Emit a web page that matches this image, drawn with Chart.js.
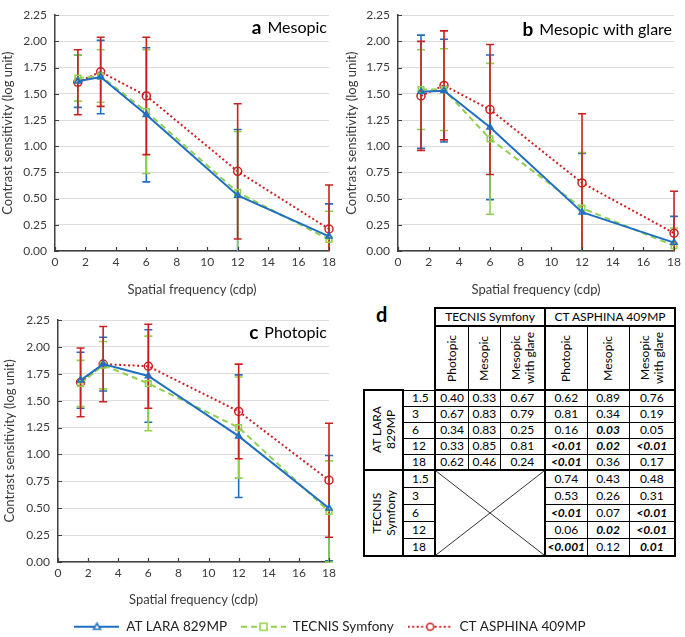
<html>
<head>
<script src="https://cdn.jsdelivr.net/npm/chart.js@4.4.0/dist/chart.umd.min.js"></script>
<style>
  body { margin:0; background:#fff; width:685px; height:637px; overflow:hidden; position:relative; font-family:Lato, sans-serif; }
  canvas { position:absolute; }
  #dlabel { position:absolute; left:376px; top:302px; font:bold 20px Lato; color:#000; }
  #tbl { position:absolute; left:363px; top:307px; border-collapse:collapse; table-layout:fixed; font:12px Lato; color:#000; }
  #tbl td { border:1px solid #000; padding:0; text-align:center; white-space:nowrap; line-height:1; }
  #tbl td.blank { border:none; }
  #tbl td.thick { border:2px solid #000; }
  #tbl td.tl { border-left:2px solid #000; }
  #tbl td.tr { border-right:2px solid #000; }
  #tbl td.tt { border-top:2px solid #000; }
  #tbl td.tb { border-bottom:2px solid #000; }
  #tbl td.freq { text-align:left; padding-left:8px; }
  #tbl td.b { font-weight:bold; font-style:italic; }
  .rot { writing-mode:vertical-rl; transform:rotate(180deg); margin:0 auto; line-height:1.15; text-align:center; }
</style>
</head>
<body>
<canvas id="chartA" width="340" height="300" style="left:0;top:0"></canvas>
<canvas id="chartB" width="345" height="300" style="left:340px;top:0"></canvas>
<canvas id="chartC" width="340" height="310" style="left:0;top:300px"></canvas>
<div id="dlabel">d</div>
<table id="tbl"></table>
<canvas id="legendCanvas" width="660" height="60" style="left:0;top:606px"></canvas>
<script>
// spatial frequencies (cdp)
var freqs = [1.5, 3, 6, 12, 18];
var seriesNames = ['AT LARA 829MP', 'TECNIS Symfony', 'CT ASPHINA 409MP'];

// a  Mesopic - mean and SD
var mesLara = [1.62, 1.66, 1.30, 0.53, 0.14];
var mesLaraSd = [0.25, 0.35, 0.64, 0.63, 0.31];
var mesTecnis = [1.65, 1.67, 1.33, 0.56, 0.11];
var mesTecnisSd = [0.22, 0.25, 0.59, 0.58, 0.27];
var mesAsphina = [1.61, 1.71, 1.48, 0.76, 0.21];
var mesAsphinaSd = [0.31, 0.33, 0.56, 0.645, 0.42];

// b  Mesopic with glare
var glareLara = [1.52, 1.53, 1.18, 0.37, 0.08];
var glareLaraSd = [0.54, 0.49, 0.69, 0.56, 0.25];
var glareTecnis = [1.54, 1.54, 1.07, 0.41, 0.05];
var glareTecnisSd = [0.38, 0.39, 0.72, 0.53, 0.17];
var glareAsphina = [1.48, 1.58, 1.35, 0.65, 0.17];
var glareAsphinaSd = [0.52, 0.52, 0.62, 0.66, 0.40];

// c  Photopic
var photLara = [1.69, 1.84, 1.73, 1.17, 0.50];
var photLaraSd = [0.26, 0.25, 0.43, 0.57, 0.49];
var photTecnis = [1.66, 1.83, 1.66, 1.25, 0.47];
var photTecnisSd = [0.215, 0.22, 0.44, 0.47, 0.47];
var photAsphina = [1.67, 1.84, 1.82, 1.40, 0.76];
var photAsphinaSd = [0.32, 0.35, 0.39, 0.44, 0.53];

// d  p values (columns: Photopic, Mesopic, Mesopic with glare)
var tableFreqs = ['1.5', '3', '6', '12', '18'];
var laraVsTecnis = [['0.40','0.33','0.67'], ['0.67','0.83','0.79'], ['0.34','0.83','0.25'], ['0.33','0.85','0.81'], ['0.62','0.46','0.24']];
var laraVsAsphina = [['0.62','0.89','0.76'], ['0.81','0.34','0.19'], ['0.16','0.03','0.05'], ['<0.01','0.02','<0.01'], ['<0.01','0.36','0.17']];
var tecnisVsAsphina = [['0.74','0.43','0.48'], ['0.53','0.26','0.31'], ['<0.01','0.07','<0.01'], ['0.06','0.02','<0.01'], ['<0.001','0.12','0.01']];

var colors = ['#1f6fc1', '#8fd14f', '#cc2020'];
var dashes = [[], [6, 4], [2, 2.5]];
var shapes = ['triangle', 'rect', 'circle'];
var radii = [3.5, 4, 4];
var FONT = 'Lato';
var TEXT = '#3a3a3a';

var errorBars = {
    id: 'errorBars',
    beforeDatasetsDraw: function(chart) {
        var ctx = chart.ctx, area = chart.chartArea;
        var xs = chart.scales.x, ys = chart.scales.y;
        chart.data.datasets.forEach(function(ds, i) {
            ctx.save();
            ctx.strokeStyle = ds.borderColor;
            ctx.lineWidth = 1.6;
            ds.sd.forEach(function(sd, j) {
                var p = ds.data[j];
                var x = xs.getPixelForValue(p.x);
                var top = ys.getPixelForValue(p.y + sd);
                var bot = ys.getPixelForValue(p.y - sd);
                var t = Math.max(top, area.top), b = Math.min(bot, area.bottom);
                ctx.beginPath();
                ctx.moveTo(x, t); ctx.lineTo(x, b);
                if (top >= area.top) { ctx.moveTo(x - 4, top); ctx.lineTo(x + 4, top); }
                if (bot <= area.bottom) { ctx.moveTo(x - 4, bot); ctx.lineTo(x + 4, bot); }
                ctx.stroke();
            });
            ctx.restore();
        });
    },
    afterDraw: function(chart, args, opts) {
        // inside tick marks, like the spreadsheet axes
        var ctx = chart.ctx, area = chart.chartArea;
        var xs = chart.scales.x, ys = chart.scales.y;
        ctx.save();
        ctx.strokeStyle = '#404040';
        ctx.lineWidth = 1.2;
        ctx.beginPath();
        ys.ticks.forEach(function(t) {
            var y = Math.round(ys.getPixelForValue(t.value)) + 0.5;
            ctx.moveTo(area.left, y); ctx.lineTo(area.left + 4, y);
        });
        xs.ticks.forEach(function(t) {
            var x = Math.round(xs.getPixelForValue(t.value)) + 0.5;
            ctx.moveTo(x, area.bottom); ctx.lineTo(x, area.bottom - 4);
        });
        ctx.stroke();
        // panel label
        ctx.textBaseline = 'middle';
        ctx.textAlign = 'right';
        ctx.fillStyle = '#000';
        ctx.font = '16px ' + FONT;
        var w = ctx.measureText(opts.text).width;
        ctx.fillText(opts.text, area.right - 2, area.top + opts.dy);
        ctx.font = 'bold 19px ' + FONT;
        ctx.fillText(opts.letter, area.right - 2 - w - 6, area.top + opts.dy);
        ctx.restore();
    }
};

function makeDataset(i, values, sd) {
    return {
        label: seriesNames[i],
        data: values.map(function(v, j) { return {x: freqs[j], y: v}; }),
        sd: sd,
        borderColor: colors[i],
        backgroundColor: 'rgba(255,255,255,0)',
        borderWidth: 2,
        borderDash: dashes[i],
        pointStyle: shapes[i],
        pointRadius: radii[i],
        pointBorderWidth: 1.5,
        pointBackgroundColor: 'rgba(255,255,255,0)',
        tension: 0,
        clip: false
    };
}

function makeChart(id, series, letter, text, g) {
    return new Chart(document.getElementById(id), {
        type: 'line',
        data: {
            datasets: [
                makeDataset(0, series[0], series[1]),
                makeDataset(1, series[2], series[3]),
                makeDataset(2, series[4], series[5])
            ]
        },
        options: {
            responsive: false,
            animation: false,
            layout: { padding: { left: g.left, top: g.top, right: g.right, bottom: 0 } },
            plugins: {
                legend: { display: false },
                tooltip: { enabled: false },
                errorBars: { letter: letter, text: text, dy: g.dy }
            },
            scales: {
                x: {
                    type: 'linear', min: 0, max: 18,
                    ticks: { stepSize: 2, color: TEXT, font: { family: FONT, size: 12 }, padding: 4, maxRotation: 0 },
                    grid: { display: false, drawTicks: false },
                    border: { display: true, color: '#404040', width: 1.5 },
                    title: { display: true, text: 'Spatial frequency (cdp)', color: TEXT, font: { family: FONT, size: 13 }, padding: { bottom: g.titleBottom, top: 0 } },
                    afterFit: function(s) { s.height = g.xHeight; }
                },
                y: {
                    min: 0, max: 2.25,
                    ticks: { stepSize: 0.25, color: TEXT, font: { family: FONT, size: 12 }, padding: 8,
                             callback: function(v) { return v.toFixed(2); } },
                    grid: { color: '#dcdcdc', lineWidth: 1, drawTicks: false },
                    border: { display: true, color: '#404040', width: 1.5 },
                    title: { display: true, text: 'Contrast sensitivity (log unit)', color: TEXT, font: { family: FONT, size: 13 }, padding: { top: 0, bottom: 0 } },
                    afterFit: function(s) { s.width = g.yWidth; }
                }
            }
        },
        plugins: [errorBars]
    });
}

makeChart('chartA', [mesLara, mesLaraSd, mesTecnis, mesTecnisSd, mesAsphina, mesAsphinaSd], 'a', 'Mesopic',
    { left: 0, top: 6, right: 11, yWidth: 55, xHeight: 49, titleBottom: 2, dy: 13 });
makeChart('chartB', [glareLara, glareLaraSd, glareTecnis, glareTecnisSd, glareAsphina, glareAsphinaSd], 'b', 'Mesopic with glare',
    { left: 4, top: 11, right: 7, yWidth: 54, xHeight: 49, titleBottom: 2, dy: 15 });
makeChart('chartC', [photLara, photLaraSd, photTecnis, photTecnisSd, photAsphina, photAsphinaSd], 'c', 'Photopic',
    { left: 2, top: 20, right: 11, yWidth: 56, xHeight: 48, titleBottom: 2, dy: 13 });

// legend icons: line with marker
function legendIcon(i) {
    var c = document.createElement('canvas');
    c.width = 45; c.height = 12;
    var x = c.getContext('2d');
    x.strokeStyle = colors[i];
    x.lineWidth = 2;
    x.setLineDash(dashes[i]);
    x.beginPath(); x.moveTo(0, 6); x.lineTo(45, 6); x.stroke();
    x.setLineDash([]);
    x.lineWidth = 1.5;
    x.fillStyle = '#fff';
    x.beginPath();
    if (i == 0) { x.moveTo(22.5, 2.5); x.lineTo(26, 8.5); x.lineTo(19, 8.5); x.closePath(); }
    else if (i == 1) { x.rect(19, 2.5, 7, 7); }
    else { x.arc(22.5, 6, 3.5, 0, Math.PI * 2); }
    x.fill(); x.stroke();
    return c;
}

new Chart(document.getElementById('legendCanvas'), {
    type: 'line',
    data: { datasets: seriesNames.map(function(n, i) { return { label: n, data: [], borderColor: colors[i] }; }) },
    options: {
        responsive: false,
        animation: false,
        scales: { x: { display: false }, y: { display: false } },
        plugins: {
            tooltip: { enabled: false },
            legend: {
                display: true, position: 'top',
                labels: {
                    usePointStyle: true, pointStyleWidth: 45, padding: 14,
                    color: '#222', font: { family: FONT, size: 13.5 },
                    generateLabels: function(chart) {
                        return seriesNames.map(function(n, i) {
                            return { text: n, pointStyle: legendIcon(i), fillStyle: 'transparent', strokeStyle: 'transparent', lineWidth: 0, hidden: false, datasetIndex: i, fontColor: '#222' };
                        });
                    }
                }
            }
        }
    }
});

// table d
function buildTable() {
    var tbl = document.getElementById('tbl');
    var widths = [39, 32, 33, 31, 44, 42, 42, 46];
    var html = '<colgroup>' + widths.map(function(w) { return '<col style="width:' + w + 'px">'; }).join('') + '</colgroup>';
    html += '<tr style="height:18px"><td class="blank" colspan="2"></td><td class="thick" colspan="3">TECNIS Symfony</td><td class="thick" colspan="3">CT ASPHINA 409MP</td></tr>';
    var heads = ['Photopic', 'Mesopic', 'Mesopic<br>with glare'];
    html += '<tr style="height:64px"><td class="blank" colspan="2"></td>';
    for (var k = 0; k < 6; k++) {
        var cls = 'tb' + (k == 0 || k == 3 ? ' tl' : '') + (k == 5 ? ' tr' : '');
        html += '<td class="' + cls + '"><div class="rot">' + heads[k % 3] + '</div></td>';
    }
    html += '</tr>';
    function cell(v, extra) {
        var bold = v.charAt(0) == '<' || parseFloat(v) < 0.05;
        return '<td class="' + (bold ? 'b ' : '') + extra + '">' + v.replace('<', '&lt;') + '</td>';
    }
    // AT LARA rows
    for (var r = 0; r < 5; r++) {
        html += '<tr style="height:16px">';
        if (r == 0) html += '<td class="thick" rowspan="5"><div class="rot">AT LARA<br>829MP</div></td>';
        var bb = r == 4 ? ' tb' : '';
        html += '<td class="freq tr' + bb + '">' + tableFreqs[r] + '</td>';
        for (var k = 0; k < 3; k++) html += cell(laraVsTecnis[r][k], bb + (k == 2 ? ' tr' : ''));
        for (var k = 0; k < 3; k++) html += cell(laraVsAsphina[r][k], bb + (k == 2 ? ' tr' : ''));
        html += '</tr>';
    }
    // TECNIS rows
    for (var r = 0; r < 5; r++) {
        html += '<tr style="height:17px">';
        if (r == 0) html += '<td class="thick" rowspan="5"><div class="rot">TECNIS<br>Symfony</div></td>';
        var bb = r == 4 ? ' tb' : '';
        html += '<td class="freq tr' + bb + '">' + tableFreqs[r] + '</td>';
        if (r == 0) html += '<td class="thick" rowspan="5" colspan="3" style="position:relative"><svg width="108" height="84" viewBox="0 0 100 100" preserveAspectRatio="none" style="display:block"><line x1="0" y1="0" x2="100" y2="100" stroke="#333" stroke-width="1" vector-effect="non-scaling-stroke"/><line x1="100" y1="0" x2="0" y2="100" stroke="#333" stroke-width="1" vector-effect="non-scaling-stroke"/></svg></td>';
        for (var k = 0; k < 3; k++) html += cell(tecnisVsAsphina[r][k], bb + (k == 2 ? ' tr' : '') + (k == 0 ? ' tl' : ''));
        html += '</tr>';
    }
    tbl.innerHTML = html;
}
buildTable();
</script>
</body>
</html>
